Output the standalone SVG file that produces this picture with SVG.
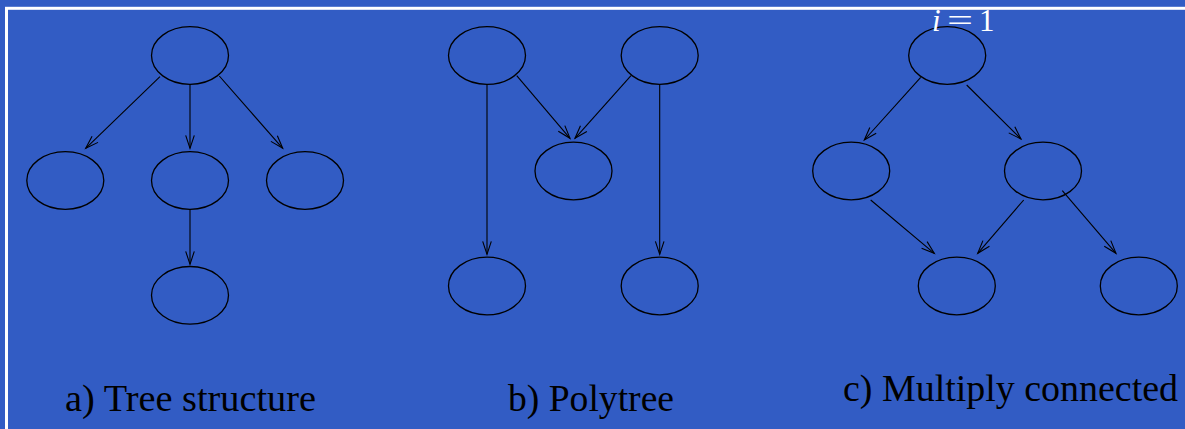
<svg xmlns="http://www.w3.org/2000/svg" width="1185" height="429" viewBox="0 0 1185 429">
  <defs>
    <marker id="vhead" markerUnits="userSpaceOnUse" markerWidth="16" markerHeight="12" viewBox="-14 -6 16 12" refX="0" refY="0" orient="auto">
      <path d="M-13,-4.3 L0,0 L-13,4.3" fill="none" stroke="#000" stroke-width="1.1"/>
    </marker>
  </defs>
  <style>
    .node { fill: none; stroke: #000; stroke-width: 1.3; }
    .edge { stroke: #000; stroke-width: 1.1; fill: none; marker-end: url(#vhead); }
    .caption { font-family: "Liberation Serif", "Times New Roman", serif; font-size: 37px; fill: #000; }
    .math { font-family: "Liberation Serif", "Times New Roman", serif; font-size: 31px; fill: #fff; }
  </style>

  <!-- background and frame -->
  <rect x="0" y="0" width="1185" height="429" fill="#325CC4"/>
  <rect x="6.5" y="8.3" width="1300" height="600" fill="none" stroke="#fff" stroke-width="3"/>

  <!-- a) tree -->
  <g id="tree-root"><ellipse class="node" cx="190" cy="55.5" rx="38.5" ry="28.8"/></g>
  <g id="tree-left"><ellipse class="node" cx="65.3" cy="180.5" rx="38.5" ry="28.8"/></g>
  <g id="tree-mid"><ellipse class="node" cx="190" cy="180.5" rx="38.5" ry="28.8"/></g>
  <g id="tree-right"><ellipse class="node" cx="305" cy="180.5" rx="38.5" ry="28.8"/></g>
  <g id="tree-leaf"><ellipse class="node" cx="190" cy="295.3" rx="38.5" ry="28.8"/></g>

  <!-- b) polytree -->
  <g id="poly-top-left"><ellipse class="node" cx="487" cy="55.5" rx="38.5" ry="28.8"/></g>
  <g id="poly-top-right"><ellipse class="node" cx="659.7" cy="55.5" rx="38.5" ry="28.8"/></g>
  <g id="poly-mid"><ellipse class="node" cx="573.5" cy="171" rx="38.5" ry="28.8"/></g>
  <g id="poly-bottom-left"><ellipse class="node" cx="487" cy="286" rx="38.5" ry="28.8"/></g>
  <g id="poly-bottom-right"><ellipse class="node" cx="659.7" cy="286" rx="38.5" ry="28.8"/></g>

  <!-- c) multiply connected -->
  <g id="multi-top"><ellipse class="node" cx="947.2" cy="55.5" rx="38.5" ry="28.8"/></g>
  <g id="multi-mid-left"><ellipse class="node" cx="851.2" cy="171" rx="38.5" ry="28.8"/></g>
  <g id="multi-mid-right"><ellipse class="node" cx="1043" cy="171" rx="38.5" ry="28.8"/></g>
  <g id="multi-bottom-left"><ellipse class="node" cx="956.8" cy="286" rx="38.5" ry="28.8"/></g>
  <g id="multi-bottom-right"><ellipse class="node" cx="1138.8" cy="286" rx="38.5" ry="28.8"/></g>

  <g id="connectors">
    <!-- tree -->
    <line class="edge" x1="160" y1="76.7" x2="85.7" y2="148.3"/>
    <line class="edge" x1="190" y1="84.3" x2="190" y2="148.3"/>
    <line class="edge" x1="219.3" y1="76" x2="282.7" y2="148.3"/>
    <line class="edge" x1="190" y1="209.3" x2="190" y2="264.3"/>
    <!-- polytree -->
    <line class="edge" x1="516.7" y1="75.7" x2="570" y2="138.3"/>
    <line class="edge" x1="631" y1="75.7" x2="575" y2="138.3"/>
    <line class="edge" x1="487" y1="84.3" x2="487" y2="254.3"/>
    <line class="edge" x1="659.7" y1="84.3" x2="659.7" y2="254.3"/>
    <!-- multiply connected -->
    <line class="edge" x1="920.7" y1="77.3" x2="864.3" y2="140"/>
    <line class="edge" x1="966.7" y1="85" x2="1021" y2="139"/>
    <line class="edge" x1="870.7" y1="200" x2="934.3" y2="253.3"/>
    <line class="edge" x1="1023.7" y1="200" x2="977.7" y2="253.3"/>
    <line class="edge" x1="1062.3" y1="190.7" x2="1116" y2="253.3"/>
  </g>

  <!-- index label -->
  <g id="index-label">
    <text class="math" x="932" y="30.7" font-style="italic">i</text>
    <text class="math" x="947" y="30.7" textLength="26" lengthAdjust="spacingAndGlyphs">=</text>
    <text class="math" x="979" y="30.7">1</text>
  </g>

  <!-- captions -->
  <text class="caption" x="65" y="411" textLength="251" lengthAdjust="spacingAndGlyphs">a) Tree structure</text>
  <text class="caption" x="508" y="411" textLength="166" lengthAdjust="spacingAndGlyphs">b) Polytree</text>
  <text class="caption" x="843" y="401" textLength="335" lengthAdjust="spacingAndGlyphs">c) Multiply connected</text>
</svg>
